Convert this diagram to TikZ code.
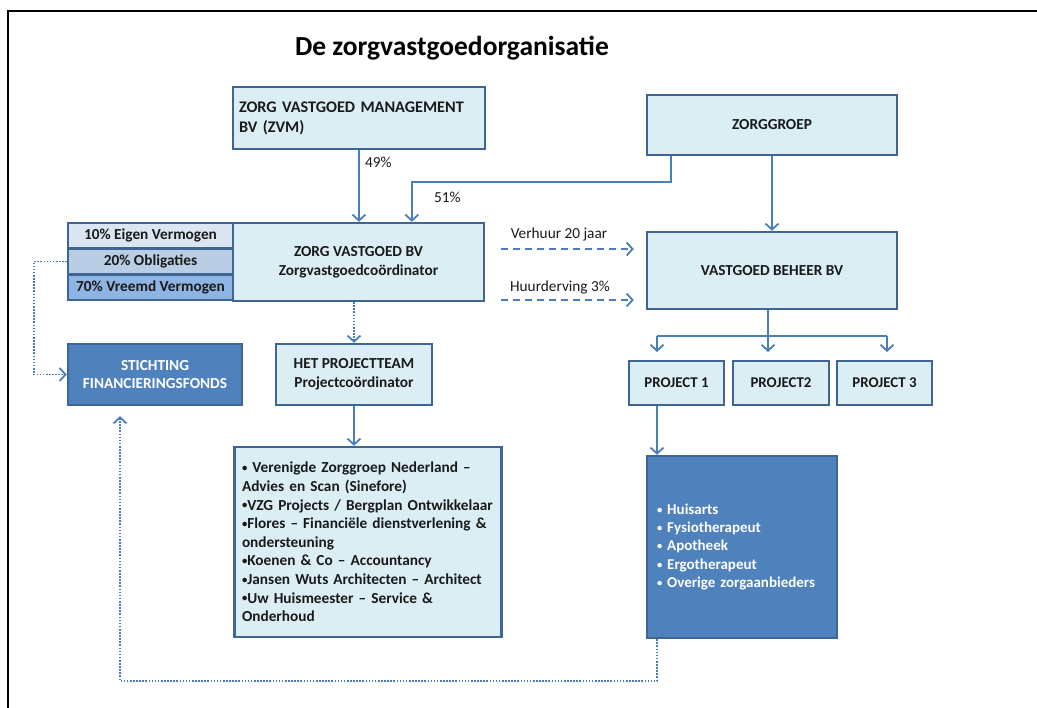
\documentclass[tikz,border=0pt]{standalone}
\usepackage{fontspec}
\setmainfont{Carlito}
\usetikzlibrary{arrows.meta,calc}

\definecolor{boxfill}{HTML}{DBEEF4}
\definecolor{boxline}{HTML}{3E6594}
\definecolor{darkfill}{HTML}{4F81BD}
\definecolor{linkc}{HTML}{4A7EBB}
\definecolor{cellA}{HTML}{DCE6F2}
\definecolor{cellB}{HTML}{B9CDE5}
\definecolor{cellC}{HTML}{8EB4E3}
\definecolor{txt}{HTML}{1A1A1A}

\newcommand\bul{\raisebox{0.15ex}{\scalebox{0.7}{•}}}
\newcommand\bfs[2]{\bfseries\fontsize{#1}{#2}\selectfont}

\tikzset{
  box/.style={draw=boxline, line width=2.4pt, fill=boxfill, inner sep=0pt,
    text=txt, align=center, font=\bfs{15.3}{18.5}},
  darkbox/.style={box, fill=darkfill, text=white},
  cell/.style={box, minimum width=165pt, minimum height=25.7pt},
  plain/.style={draw=linkc, line width=2pt},
  link/.style={plain, -{Straight Barb[length=6pt,width=13pt,line width=1.8pt]}},
  dashlink/.style={link, dash pattern=on 7pt off 5pt},
  dotlink/.style={link, line width=1.8pt, dash pattern=on 1.6pt off 1.5pt},
  lbl/.style={inner sep=0pt, text=txt, font=\fontsize{15.3}{18}\selectfont},
}

\begin{document}
\begin{tikzpicture}[x=1pt,y=-1pt]
\useasboundingbox (0,0) rectangle (1037,708);
\fill[white] (0,0) rectangle (1037,708);

% outer frame
\draw[black, line width=2pt] (8,708) -- (8,11) -- (1037,11);

% title
\node[inner sep=0pt, font=\bfs{27.5}{32}] (title) at (452,48) {De zorgvastgoedorganisatie};

% boxes
\node[box, minimum width=252pt, minimum height=62pt, text width=240pt, align=left,
      font=\bfs{16.2}{20}] (zvm) at (359,118)
  {ZORG VASTGOED MANAGEMENT\\BV (ZVM)};
\node[box, minimum width=250pt, minimum height=60pt] (zorggroep) at (772,125) {ZORGGROEP};
\node[box, minimum width=251pt, minimum height=78pt, font=\bfs{15.3}{19}] (zvbv) at (358.5,262)
  {ZORG VASTGOED BV\\Zorgvastgoedcoördinator};
\node[cell, fill=cellA] (cellA) at (150.5,235.8) {10\% Eigen Vermogen};
\node[cell, fill=cellB] (cellB) at (150.5,261.5) {20\% Obligaties};
\node[cell, fill=cellC] (cellC) at (150.5,287.2) {70\% Vreemd Vermogen};
\node[box, minimum width=250pt, minimum height=77pt] (vbb) at (772,270.5) {VASTGOED BEHEER BV};
\node[darkbox, minimum width=174pt, minimum height=61pt] (stichting) at (155,374.5)
  {STICHTING\\FINANCIERINGSFONDS};
\node[box, minimum width=156pt, minimum height=61pt] (team) at (354,374.5)
  {HET PROJECTTEAM\\Projectcoördinator};
\node[box, minimum width=95pt, minimum height=44pt, font=\bfs{14.9}{18}] (p1) at (676.5,383) {PROJECT 1};
\node[box, minimum width=96pt, minimum height=44pt, font=\bfs{14.9}{18}] (p2) at (781,383) {PROJECT2};
\node[box, minimum width=95pt, minimum height=44pt, font=\bfs{14.9}{18}] (p3) at (884.5,383) {PROJECT 3};
\node[box, minimum width=267pt, minimum height=190pt, text width=252pt, align=left,
      font=\bfs{15.3}{18.6}] (list) at (368,542)
  {\bul{} Verenigde Zorggroep Nederland –\\
   Advies en Scan (Sinefore)\\
   \bul VZG Projects / Bergplan Ontwikkelaar\\
   \bul Flores – Financiële dienstverlening \&\\
   ondersteuning\\
   \bul Koenen \& Co – Accountancy\\
   \bul Jansen Wuts Architecten – Architect\\
   \bul Uw Huismeester – Service \&\\
   Onderhoud};
\node[darkbox, minimum width=190pt, minimum height=182pt, text width=170pt, align=left,
      font=\bfs{15}{18.4}] (care) at (742,547)
  {\bul{} Huisarts\\
   \bul{} Fysiotherapeut\\
   \bul{} Apotheek\\
   \bul{} Ergotherapeut\\
   \bul{} Overige zorgaanbieders};

% ownership links
\draw[link] (zvm.south) -- (zvm.south |- zvbv.north);
\node[lbl, anchor=west] (l49) at (365,162) {49\%};
\draw[link] ([xshift=25pt]zorggroep.south west) -- ++(0,26) -| ([xshift=180pt]zvbv.north west);
\node[lbl, anchor=west] (l51) at (434,197) {51\%};
\draw[link] (zorggroep.south) -- (vbb.north);

% lease relations
\draw[dashlink] ($(zvbv.east)+(16,-13)$) -- ($(zvbv.east -| vbb.west)+(-12,-13)$);
\node[lbl] (verhuur) at (559,235) {Verhuur 20 jaar};
\draw[dashlink] ($(zvbv.east)+(16,38)$) -- ($(zvbv.east -| vbb.west)+(-12,38)$);
\node[lbl] (huur) at (560,288) {Huurderving 3\%};

% projects
\coordinate (t1) at (657,336);
\coordinate (t2) at (768,336);
\coordinate (t3) at (887,336);
\draw[plain] (t2 |- vbb.south) -- (t2);
\draw[plain] (t1) -- (t3);
\draw[link] (t1) -- ++(0,16);
\draw[link] (t2) -- ++(0,16);
\draw[link] (t3) -- ++(0,16);
\draw[link] (t1 |- p1.south) -- (t1 |- care.north);

% project team
\draw[dotlink] (team.north |- zvbv.south) -- (team.north);
\draw[link] (team.south) -- (team.south |- list.north);

% financing fund
\draw[dotlink] (cellB.west) -- ++(-33,0) |- (stichting.west);
\coordinate (loop) at (120,681);
\draw[dotlink] (t1 |- care.south) |- (loop) -- ($(stichting.south)+(-35,10)$);
\end{tikzpicture}
\end{document}
